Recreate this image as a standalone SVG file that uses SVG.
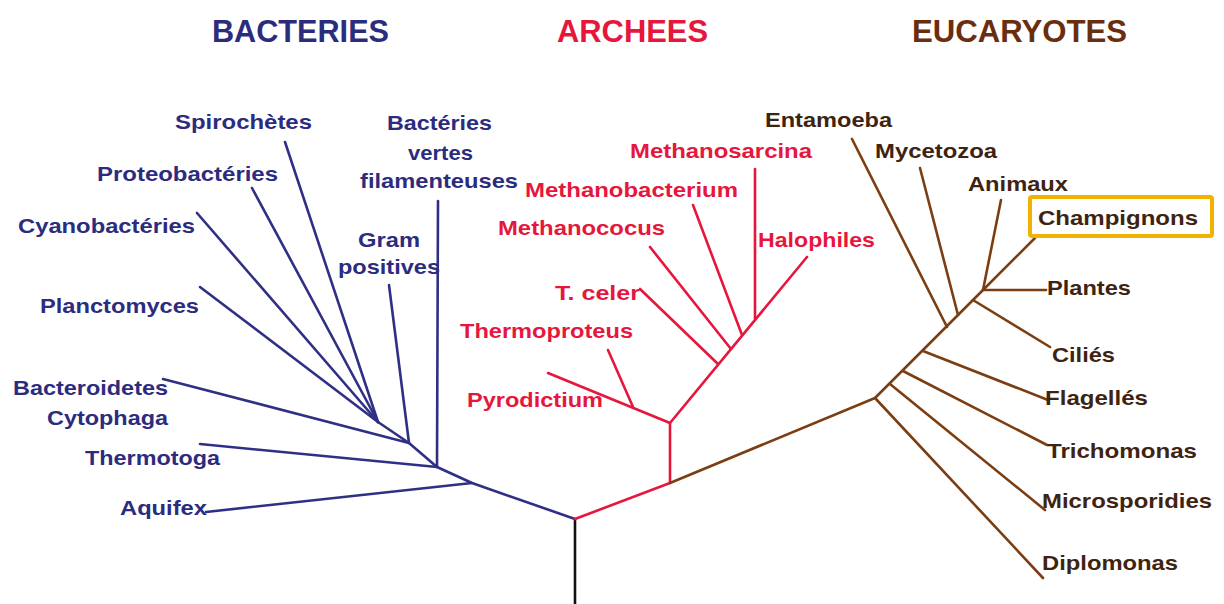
<svg xmlns="http://www.w3.org/2000/svg" width="1224" height="604" viewBox="0 0 1224 604">
<style>
text{font-family:"Liberation Sans",Arial,sans-serif;font-weight:bold;}
.h{font-size:31px;}
.l{font-size:21px;}
.bt{fill:#2c2c7e;}
.at{fill:#e6163c;}
.et{fill:#3e2410;}
.bl{stroke:#2f2f85;}
.al{stroke:#e6163c;}
.el{stroke:#7a3e12;}
line,polyline{fill:none;stroke-width:2.6;stroke-linecap:round;stroke-linejoin:round;}
</style>
<rect width="1224" height="604" fill="#ffffff"/>
<g id="headers">
<text class="h bt" x="212" y="42" textLength="177" lengthAdjust="spacingAndGlyphs">BACTERIES</text>
<text class="h at" x="557" y="42" textLength="151" lengthAdjust="spacingAndGlyphs">ARCHEES</text>
<text class="h" fill="#6a2e0f" x="912" y="42" textLength="215" lengthAdjust="spacingAndGlyphs">EUCARYOTES</text>
</g>
<g id="connectors">
<line x1="575" y1="519" x2="575" y2="604" stroke="#111" stroke-width="3"/>
<g class="bl">
<polyline class="bl" points="575,519 472,483 437,467 409,443 378,422"/>
<line class="bl" x1="472" y1="483" x2="206" y2="512"/>
<line class="bl" x1="437" y1="467" x2="200" y2="444"/>
<line class="bl" x1="437" y1="467" x2="438" y2="201"/>
<line class="bl" x1="409" y1="443" x2="163" y2="379"/>
<line class="bl" x1="409" y1="443" x2="389" y2="285"/>
<line class="bl" x1="378" y1="422" x2="200" y2="287"/>
<line class="bl" x1="378" y1="422" x2="197" y2="213"/>
<line class="bl" x1="378" y1="422" x2="252" y2="188"/>
<line class="bl" x1="378" y1="422" x2="285" y2="142"/>
</g>
<g>
<polyline class="al" points="575,519 670,483 670,423 807,257"/>
<line class="al" x1="670" y1="423" x2="548" y2="373"/>
<line class="al" x1="633" y1="407" x2="608" y2="350"/>
<line class="al" x1="718" y1="364" x2="640" y2="289"/>
<line class="al" x1="731" y1="349" x2="650" y2="247"/>
<line class="al" x1="742" y1="335" x2="693" y2="205"/>
<line class="al" x1="755" y1="319" x2="755" y2="169"/>
</g>
<g>
<polyline class="el" points="670,483 875,398 983,290 1035,238"/>
<line class="el" x1="875" y1="398" x2="1043" y2="578"/>
<line class="el" x1="890" y1="384" x2="1045" y2="510"/>
<line class="el" x1="903" y1="371" x2="1047" y2="445"/>
<line class="el" x1="923" y1="351" x2="1048" y2="400"/>
<line class="el" x1="947" y1="327" x2="852" y2="139"/>
<line class="el" x1="958" y1="315" x2="920" y2="168"/>
<line class="el" x1="973" y1="300" x2="1050" y2="347"/>
<line class="el" x1="983" y1="290" x2="1001" y2="200"/>
<line class="el" x1="983" y1="290" x2="1046" y2="290"/>
</g>
</g>
<g id="bacteria-labels">
<g id="n-spirochetes"><text class="l bt" x="175" y="129" textLength="137" lengthAdjust="spacingAndGlyphs">Spirochètes</text></g>
<g id="n-proteobacteries"><text class="l bt" x="97" y="181" textLength="181" lengthAdjust="spacingAndGlyphs">Proteobactéries</text></g>
<g id="n-cyanobacteries"><text class="l bt" x="18" y="233" textLength="177" lengthAdjust="spacingAndGlyphs">Cyanobactéries</text></g>
<g id="n-planctomyces"><text class="l bt" x="40" y="313" textLength="159" lengthAdjust="spacingAndGlyphs">Planctomyces</text></g>
<g id="n-bacteroidetes"><text class="l bt" x="13" y="395" textLength="155" lengthAdjust="spacingAndGlyphs">Bacteroidetes</text>
<text class="l bt" x="47" y="425" textLength="121" lengthAdjust="spacingAndGlyphs">Cytophaga</text></g>
<g id="n-thermotoga"><text class="l bt" x="85" y="465" textLength="135" lengthAdjust="spacingAndGlyphs">Thermotoga</text></g>
<g id="n-aquifex"><text class="l bt" x="120" y="515" textLength="87" lengthAdjust="spacingAndGlyphs">Aquifex</text></g>
<g id="n-vertes"><text class="l bt" x="387" y="130" textLength="105" lengthAdjust="spacingAndGlyphs">Bactéries</text>
<text class="l bt" x="408" y="160" textLength="65" lengthAdjust="spacingAndGlyphs">vertes</text>
<text class="l bt" x="360" y="188" textLength="158" lengthAdjust="spacingAndGlyphs">filamenteuses</text></g>
<g id="n-gram"><text class="l bt" x="358" y="247" textLength="62" lengthAdjust="spacingAndGlyphs">Gram</text>
<text class="l bt" x="338" y="274" textLength="102" lengthAdjust="spacingAndGlyphs">positives</text></g>
</g>
<g id="archaea-labels">
<g id="n-methanosarcina"><text class="l at" x="630" y="158" textLength="182" lengthAdjust="spacingAndGlyphs">Methanosarcina</text></g>
<g id="n-methanobacterium"><text class="l at" x="525" y="197" textLength="213" lengthAdjust="spacingAndGlyphs">Methanobacterium</text></g>
<g id="n-methanococus"><text class="l at" x="498" y="235" textLength="167" lengthAdjust="spacingAndGlyphs">Methanococus</text></g>
<g id="n-halophiles"><text class="l at" x="758" y="247" textLength="117" lengthAdjust="spacingAndGlyphs">Halophiles</text></g>
<g id="n-tceler"><text class="l at" x="555" y="300" textLength="85" lengthAdjust="spacingAndGlyphs">T. celer</text></g>
<g id="n-thermoproteus"><text class="l at" x="460" y="338" textLength="173" lengthAdjust="spacingAndGlyphs">Thermoproteus</text></g>
<g id="n-pyrodictium"><text class="l at" x="467" y="407" textLength="136" lengthAdjust="spacingAndGlyphs">Pyrodictium</text></g>
</g>
<g id="eukaryote-labels">
<g id="n-entamoeba"><text class="l et" x="765" y="127" textLength="127" lengthAdjust="spacingAndGlyphs">Entamoeba</text></g>
<g id="n-mycetozoa"><text class="l et" x="875" y="158" textLength="122" lengthAdjust="spacingAndGlyphs">Mycetozoa</text></g>
<g id="n-animaux"><text class="l et" x="968" y="191" textLength="100" lengthAdjust="spacingAndGlyphs">Animaux</text></g>
<g id="n-champignons"><rect x="1030" y="197" width="182" height="39" rx="2" fill="none" stroke="#f2b300" stroke-width="4"/>
<text class="l et" x="1038" y="225" textLength="160" lengthAdjust="spacingAndGlyphs">Champignons</text></g>
<g id="n-plantes"><text class="l et" x="1047" y="295" textLength="84" lengthAdjust="spacingAndGlyphs">Plantes</text></g>
<g id="n-cilies"><text class="l et" x="1052" y="362" textLength="63" lengthAdjust="spacingAndGlyphs">Ciliés</text></g>
<g id="n-flagelles"><text class="l et" x="1045" y="405" textLength="103" lengthAdjust="spacingAndGlyphs">Flagellés</text></g>
<g id="n-trichomonas"><text class="l et" x="1047" y="458" textLength="150" lengthAdjust="spacingAndGlyphs">Trichomonas</text></g>
<g id="n-microsporidies"><text class="l et" x="1042" y="508" textLength="170" lengthAdjust="spacingAndGlyphs">Microsporidies</text></g>
<g id="n-diplomonas"><text class="l et" x="1042" y="570" textLength="136" lengthAdjust="spacingAndGlyphs">Diplomonas</text></g>
</g>
</svg>
